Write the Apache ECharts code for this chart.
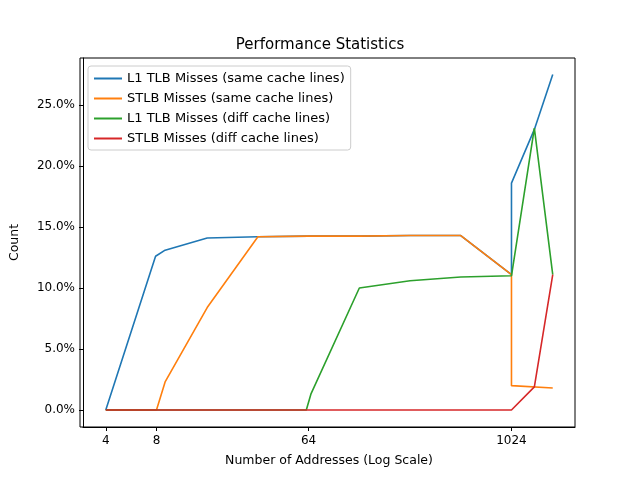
<!DOCTYPE html>
<html>
<head>
<meta charset="utf-8">
<script src="https://cdn.jsdelivr.net/npm/echarts@6/dist/echarts.min.js"></script>
<style>html,body{margin:0;background:#fff}#chart{width:640px;height:480px}</style>
</head>
<body>
<div id="chart"></div>
<script>
// values (x = number of addresses, y = percent)
const l1Same = [[4,0],[7.9,12.6],[9,13.1],[16,14.1],[32,14.2],[64,14.25],[128,14.25],[256,14.3],[512,14.3],[1024,11.1],[1024,18.6],[1400,23.0],[1800,27.5]];
const stlbSame = [[4,0],[8,0],[9,2.3],[16,8.4],[32,14.2],[64,14.25],[128,14.25],[256,14.3],[512,14.3],[1024,11.1],[1024,2.0],[1800,1.8]];
const l1Diff = [[4,0],[8,0],[16,0],[32,0],[62,0],[66,1.3],[128,10.0],[256,10.6],[512,10.9],[1024,11.0],[1400,23.1],[1800,11.1]];
const stlbDiff = [[4,0],[8,0],[16,0],[32,0],[64,0],[128,0],[256,0],[512,0],[1024,0],[1400,1.9],[1800,11.1]];
const xTicks = [4, 8, 64, 1024];
const yTicks = [0, 5, 10, 15, 20, 25];

const font = 'DejaVu Sans';
const names = ['L1 TLB Misses (same cache lines)','STLB Misses (same cache lines)','L1 TLB Misses (diff cache lines)','STLB Misses (diff cache lines)'];
const colors = ['#1f77b4','#ff7f0e','#2ca02c','#d62728'];
const data = [l1Same, stlbSame, l1Diff, stlbDiff];

const chart = echarts.init(document.getElementById('chart'));
chart.setOption({
  animation: false,
  textStyle: { fontFamily: font },
  title: { text: 'Performance Statistics', left: 'center', top: 33, textStyle: { fontFamily: font, fontSize: 15, fontWeight: 'normal', color: '#000' } },
  legend: {
    left: 88, top: 66, orient: 'vertical', itemGap: 7, itemWidth: 28, itemHeight: 2,
    borderColor: '#ccc', borderWidth: 1, borderRadius: 3, padding: [6, 6, 5, 6],
    textStyle: { fontFamily: font, fontSize: 13, color: '#000' },
    icon: 'rect', data: names
  },
  grid: { left: 80, right: 65, top: 58, bottom: 53 },
  xAxis: {
    type: 'log', logBase: 2, min: 2.93, max: 2440,
    name: 'Number of Addresses (Log Scale)', nameLocation: 'middle', nameGap: 27,
    nameTextStyle: { fontFamily: font, fontSize: 12.5, color: '#000' },
    axisLine: { onZero: false, lineStyle: { color: '#000' } },
    axisTick: { show: true, customValues: xTicks, length: 4, lineStyle: { color: '#000' } },
    axisLabel: { customValues: xTicks, color: '#000', fontSize: 12, margin: 8, formatter: v => String(Math.round(v)) },
    splitLine: { show: false }
  },
  yAxis: {
    type: 'value', min: -1.39, max: 28.85,
    name: 'Count', nameLocation: 'middle', nameGap: 62,
    nameTextStyle: { fontFamily: font, fontSize: 12.5, color: '#000' },
    axisLine: { show: true, onZero: false, lineStyle: { color: '#000' } },
    axisTick: { show: true, customValues: yTicks, length: 4, lineStyle: { color: '#000' } },
    axisLabel: { customValues: yTicks, color: '#000', fontSize: 12, formatter: v => v.toFixed(1) + '%' },
    splitLine: { show: false }
  },
  series: data.map((d, i) => ({
    name: names[i], type: 'line', data: d, showSymbol: false, symbol: 'none',
    lineStyle: { width: 1.6, color: colors[i] }, itemStyle: { color: colors[i] }
  }))
});
// box on top and right like matplotlib frame
chart.setOption({ graphic: [{ type: 'rect', shape: { x: 80, y: 58, width: 495, height: 369 }, style: { fill: 'none', stroke: '#000', lineWidth: 1 }, silent: true }] });
</script>
</body>
</html>
